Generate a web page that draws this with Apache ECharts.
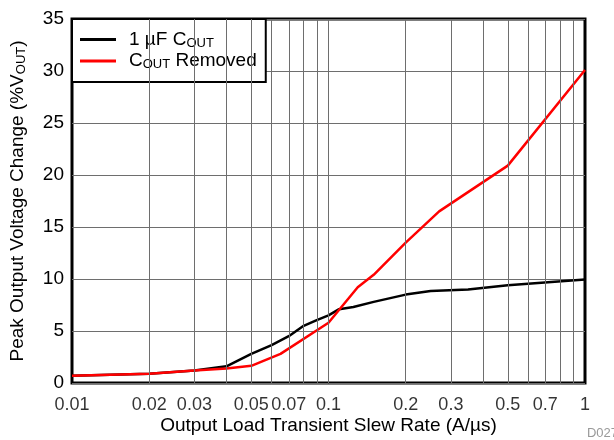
<!DOCTYPE html>
<html>
<head>
<meta charset="utf-8">
<script src="https://cdn.jsdelivr.net/npm/echarts@6/dist/echarts.min.js"></script>
<style>
  html, body { margin: 0; padding: 0; background: #fff; }
  #chart { width: 614px; height: 440px; }
</style>
</head>
<body>
<div id="chart"></div>
<script>
// slew rate (A/us) vs peak output voltage change (%Vout)
const capX = [0.01, 0.02, 0.03, 0.04, 0.05, 0.06, 0.07, 0.08, 0.09, 0.1, 0.11, 0.125, 0.15, 0.2, 0.25, 0.35, 0.5, 1]
const capY = [0.7, 0.9, 1.2, 1.6, 2.8, 3.65, 4.5, 5.5, 6.05, 6.5, 7.1, 7.3, 7.8, 8.5, 8.85, 9.0, 9.4, 9.95]
const noCapX = [0.01, 0.02, 0.03, 0.04, 0.05, 0.065, 0.1, 0.13, 0.15, 0.2, 0.27, 0.5, 1]
const noCapY = [0.7, 0.9, 1.2, 1.4, 1.65, 2.8, 5.8, 9.2, 10.4, 13.5, 16.5, 20.9, 30.1]
const tickValues = [0.01, 0.02, 0.03, 0.05, 0.07, 0.1, 0.2, 0.3, 0.5, 0.7, 1]
const tickLabels = ['0.01', '0.02', '0.03', '0.05', '0.07', '0.1', '0.2', '0.3', '0.5', '0.7', '1']
const gridValues = [0.02, 0.03, 0.04, 0.05, 0.06, 0.07, 0.08, 0.09, 0.1, 0.2, 0.3, 0.4, 0.5, 0.6, 0.7, 0.8, 0.9]

const font = 'Liberation Sans, Arial, sans-serif'
const sub = { fontSize: 13, fontFamily: font, color: '#000', verticalAlign: 'bottom', padding: [7, 0, 0, 0] }

const chart = echarts.init(document.getElementById('chart'))

chart.setOption({
  animation: false,
  grid: {
    left: 72,
    right: 29,
    top: 19,
    bottom: 57,
    show: true,
    borderColor: '#000',
    borderWidth: 3,
    backgroundColor: 'transparent'
  },
  legend: {
    left: 72,
    top: 19,
    orient: 'vertical',
    backgroundColor: '#fff',
    borderColor: '#000',
    borderWidth: 2,
    borderRadius: 0,
    padding: [11, 9, 11, 8],
    itemGap: 2,
    itemWidth: 36,
    itemHeight: 3,
    icon: 'rect',
    data: ['cap', 'nocap'],
    formatter: function (name) {
      if (name === 'cap') return '{t|1 µF C}{s|OUT}'
      return '{t|C}{s|OUT}{t| Removed}'
    },
    textStyle: {
      padding: [0, 0, 0, 8],
      rich: {
        t: { fontSize: 19, fontFamily: font, color: '#000' },
        s: sub
      }
    }
  },
  xAxis: {
    type: 'log',
    min: 0.01,
    max: 1,
    logBase: 10,
    name: 'Output Load Transient Slew Rate (A/µs)',
    nameLocation: 'middle',
    nameGap: 33,
    nameTextStyle: { fontSize: 19, fontFamily: font, color: '#000' },
    axisLine: { show: false },
    axisTick: { show: false },
    axisLabel: { show: false },
    splitLine: { show: false }
  },
  yAxis: {
    type: 'value',
    min: 0,
    max: 35,
    interval: 5,
    name: '{t|Peak Output Voltage Change (%V}{s|OUT}{t|)}',
    nameLocation: 'middle',
    nameGap: 44,
    nameTextStyle: {
      rich: {
        t: { fontSize: 19, fontFamily: font, color: '#000' },
        s: sub
      }
    },
    axisLine: { show: false },
    axisTick: { show: false },
    axisLabel: { fontSize: 19, fontFamily: font, color: '#000', margin: 8 },
    splitLine: { lineStyle: { color: '#6e6e6e', width: 1 } }
  },
  series: [
    {
      name: 'ticks',
      type: 'scatter',
      z: 1,
      clip: false,
      silent: true,
      symbolSize: 0,
      data: tickValues.map((v, i) => [v, 0, tickLabels[i]]),
      label: {
        show: true,
        position: 'bottom',
        distance: 13,
        fontSize: 18,
        fontFamily: font,
        color: '#000',
        formatter: p => p.value[2]
      },
      markLine: {
        silent: true,
        symbol: 'none',
        label: { show: false },
        lineStyle: { color: '#6e6e6e', width: 1, type: 'solid' },
        data: gridValues.map(v => ({ xAxis: v }))
      }
    },
    {
      name: 'cap',
      type: 'line',
      z: 3,
      showSymbol: false,
      symbol: 'none',
      color: '#000',
      lineStyle: { color: '#000', width: 2.5 },
      data: capX.map((v, i) => [v, capY[i]])
    },
    {
      name: 'nocap',
      type: 'line',
      z: 4,
      showSymbol: false,
      symbol: 'none',
      color: '#ff0000',
      lineStyle: { color: '#ff0000', width: 2.5 },
      data: noCapX.map((v, i) => [v, noCapY[i]])
    }
  ],
  graphic: [{
    type: 'text',
    right: -4,
    bottom: 0,
    style: { text: 'D027', fontSize: 13, fontFamily: font, fill: '#999' }
  }]
})
</script>
</body>
</html>
